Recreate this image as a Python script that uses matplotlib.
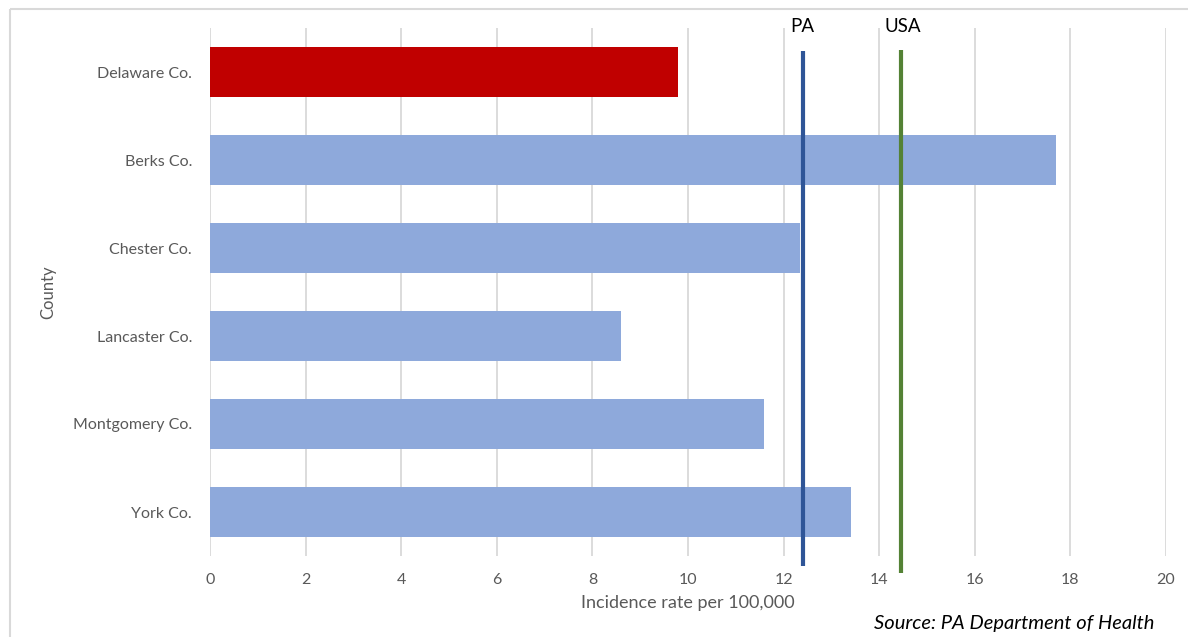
import matplotlib
matplotlib.use("Agg")
import matplotlib.pyplot as plt
from matplotlib.lines import Line2D

counties = ["Delaware Co.", "Berks Co.", "Chester Co.", "Lancaster Co.", "Montgomery Co.", "York Co."]
rates = [9.8, 17.7, 12.35, 8.6, 11.6, 13.4]
bar_colors = ["#C00000", "#8EA9DB", "#8EA9DB", "#8EA9DB", "#8EA9DB", "#8EA9DB"]
pa_rate = 12.4
usa_rate = 14.45
x_ticks = [0, 2, 4, 6, 8, 10, 12, 14, 16, 18, 20]

plt.rcParams['font.family'] = ['Lato', 'DejaVu Sans']

fig = plt.figure(figsize=(11.88, 6.37), dpi=100)
fig.patch.set_edgecolor("white")
fig.patch.set_linewidth(0)
W, H = 1188, 637
ax = fig.add_axes([210 / W, 1 - 556 / H, (1166 - 210) / W, (556 - 28) / H])

# outer border (top and left visible)
fig.lines.append(Line2D([10 / W, 1.0], [1 - 9 / H, 1 - 9 / H], transform=fig.transFigure,
                        color="#D9D9D9", linewidth=1.5, solid_capstyle="butt"))
fig.lines.append(Line2D([10 / W, 10 / W], [0.0, 1 - 9 / H], transform=fig.transFigure,
                        color="#D9D9D9", linewidth=1.5, solid_capstyle="butt"))

y = list(range(len(counties)))
ax.barh(y, rates, height=0.57, color=bar_colors, zorder=2)
ax.set_ylim(5.5, -0.5)
ax.set_xlim(0, 20)
ax.set_xticks(x_ticks)
ax.set_yticks(y)
ax.set_yticklabels(counties)
ax.grid(axis="x", color="#D9D9D9", linewidth=1.3, zorder=0)
ax.set_axisbelow(True)
for s in ax.spines.values():
    s.set_visible(False)
ax.tick_params(axis="both", length=0, colors="#595959", labelsize=11.5)
ax.tick_params(axis="x", pad=12)
ax.tick_params(axis="y", pad=13)

ax.plot([pa_rate, pa_rate], [-0.24, 5.61], color="#2F5597", linewidth=3, zorder=3, clip_on=False, solid_capstyle="butt")
ax.plot([usa_rate, usa_rate], [-0.25, 5.69], color="#548235", linewidth=3, zorder=3, clip_on=False, solid_capstyle="butt")
ax.text(pa_rate, -0.52, "PA", ha="center", va="center", fontsize=13.5, color="black", clip_on=False)
ax.text(usa_rate + 0.05, -0.52, "USA", ha="center", va="center", fontsize=13.5, color="black", clip_on=False)

ax.set_xlabel("Incidence rate per 100,000", fontsize=13, color="#595959", labelpad=6)
ax.set_ylabel("County", fontsize=12, color="#595959", labelpad=12)

fig.text(1014 / W, 1 - 623 / H, "Source: PA Department of Health", ha="center", va="center",
         fontsize=14.5, fontstyle="italic", color="black")

fig.savefig("out.png", dpi=100)
